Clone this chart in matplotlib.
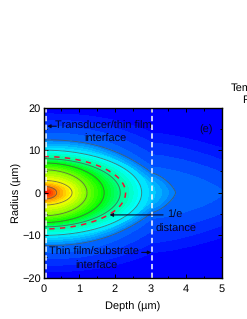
import numpy as np
import matplotlib
matplotlib.use("Agg")
import matplotlib.pyplot as plt
from matplotlib.colors import LinearSegmentedColormap
from matplotlib.ticker import MultipleLocator

plt.rcParams['font.family'] = ['Liberation Sans', 'DejaVu Sans']
plt.rcParams['text.hinting'] = 'no_hinting'
plt.rcParams['text.hinting_factor'] = 1

# contour levels
level_v = [0.0, 0.025, 0.05, 0.075, 0.1, 0.125, 0.25, 0.375, 0.5, 0.625, 0.75, 0.875, 1.0]
radius_at_surface = [20.5, 18.5, 17.0, 15.5, 14.0, 12.4, 10.0, 8.0, 7.0, 5.4, 2.9, 1.5, 0.25]
depth_on_axis = [7.5, 7.3, 6.5, 5.9, 5.05, 3.7, 2.75, 2.15, 1.7, 1.22, 0.8, 0.37, 0.08]
radius_at_substrate = [17.0, 14.0, 11.7, 8.9, 6.0, 4.6, 0.0, 0.0, 0.0, 0.0, 0.0, 0.0, 0.0]
line_levels = [0.125, 0.25, 0.375, 0.5, 0.625, 0.75, 0.875]
efold_radius = 8.5
efold_depth = 2.3
film_depth = 3.05
surface_depth = 0.08
xticks = [0, 1, 2, 3, 4, 5]
yticks = [-20, -10, 0, 10, 20]
rainbow = ['#0000ff', '#00ffff', '#00ff00', '#ffff00', '#ff0000']


def level_curve(v, d):
    R0 = np.interp(v, level_v, radius_at_surface)
    D = np.interp(v, level_v, depth_on_axis)
    R3 = np.interp(v, level_v, radius_at_substrate)
    d = np.asarray(d, dtype=float)
    if D <= film_depth:
        return R0 * np.sqrt(np.clip(1 - (d / D) ** 2, 0, 1))
    film = R0 - (R0 - R3) * (np.clip(d, 0, film_depth) / film_depth) ** 2.5
    x = np.clip(np.clip(d - film_depth, 0, None) / (D - film_depth), 0, 1)
    sub = R3 * (1 - x ** 1.4) ** (1 / 1.4)
    return np.where(d <= film_depth, film, sub)


depth = np.linspace(0, 5, 900)
radius = np.linspace(-20, 20, 900)
DD, RR = np.meshgrid(depth, radius)
fine_v = np.linspace(0, 1, 41)
Z = np.zeros_like(DD)
for v in fine_v:
    Z[np.abs(RR) <= level_curve(v, DD)] = v

cmap = LinearSegmentedColormap.from_list('rb', rainbow)

fig = plt.figure(figsize=(2.47, 3.19), dpi=100)
ax = fig.add_axes([43.5 / 247, 1 - 278 / 319, (222 - 43.5) / 247, (278 - 107.5) / 319])
ax.contourf(DD, RR, Z, levels=np.r_[fine_v - 0.0125, 1.02], cmap=cmap, vmin=0, vmax=1)

dd = np.linspace(0, 5, 800)
for v in line_levels:
    rr = level_curve(v, dd)
    keep = rr > 0
    end = np.interp(v, level_v, depth_on_axis)
    x = np.r_[dd[keep], end]
    y = np.r_[rr[keep], 0]
    ax.plot(np.r_[x, x[::-1]], np.r_[y, -y[::-1]], color='#505050', alpha=0.75, lw=0.65)

dd2 = np.linspace(0, efold_depth, 300)
r2 = efold_radius * np.sqrt(1 - (dd2 / efold_depth) ** 2)
ax.plot(np.r_[dd2, dd2[::-1]], np.r_[r2, -r2[::-1]], color='#ee1133', lw=1.1, dashes=(3.5, 3.5))

for xv in (surface_depth, film_depth):
    ax.axvline(xv, color='white', lw=1.1, dashes=(3.5, 2.2))

ax.set_xlim(0, 5)
ax.set_ylim(-20, 20)
ax.set_xticks(xticks)
ax.set_yticks(yticks)
ax.xaxis.set_minor_locator(MultipleLocator(0.5))
ax.yaxis.set_minor_locator(MultipleLocator(5))
ax.tick_params(which='both', direction='in', top=True, right=True, labelsize=8, length=3, width=0.7, pad=2)
ax.tick_params(which='minor', length=1.8)
ax.tick_params(axis='x', pad=4)
for s in ax.spines.values():
    s.set_linewidth(1.0)
ax.set_xlabel('Depth (µm)', fontsize=8, labelpad=6)
ax.set_ylabel('Radius (µm)', fontsize=8, labelpad=0)

tk = dict(fontsize=8, color='#05052a', ha='center', va='center')
ax.text(1.68, 15.6, 'Transducer/thin film', **tk)
ax.text(1.74, 12.6, 'interface', **tk)
ax.text(1.42, -14.0, 'Thin film/substrate', **tk)
ax.text(1.48, -17.2, 'interface', **tk)
ax.text(3.67, -5.2, '1/e', **tk)
ax.text(3.7, -8.4, 'distance', **tk)
ax.text(4.54, 14.7, '(e)', **tk)
arrow = dict(arrowstyle='-|>', color='#05052a', lw=0.8, mutation_scale=5, shrinkA=0, shrinkB=0)
ax.annotate('', xy=(0.1, 15.6), xytext=(0.36, 15.6), arrowprops=arrow)
ax.annotate('', xy=(3.02, -14.0), xytext=(2.75, -14.0), arrowprops=arrow)
ax.annotate('', xy=(1.85, -5.2), xytext=(3.35, -5.2), arrowprops=arrow)

fig.text(231 / 247, 1 - 88 / 319, 'Temperature', fontsize=8, ha='left', va='center')
fig.text(243 / 247, 1 - 101 / 319, 'Rise (K)', fontsize=8, ha='left', va='center')
fig.savefig('out.png', dpi=100)
